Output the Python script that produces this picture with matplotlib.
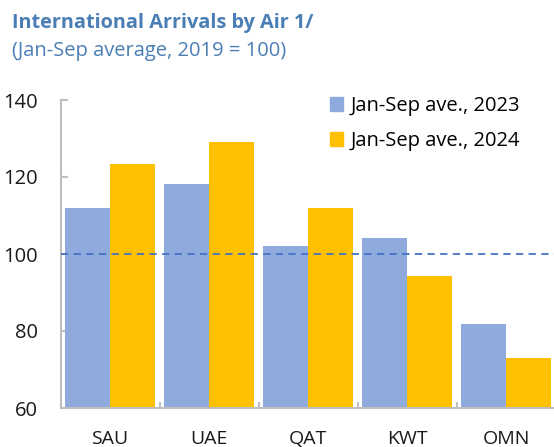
import numpy as np
import matplotlib
matplotlib.use('Agg')
import matplotlib.pyplot as plt
from matplotlib.patches import Patch

plt.rcParams['font.family'] = ['Open Sans', 'DejaVu Sans']

countries = ['SAU', 'UAE', 'QAT', 'KWT', 'OMN']
ave_2023 = [112.0, 118.3, 102.2, 104.2, 81.9]
ave_2024 = [123.5, 129.0, 112.0, 94.4, 73.0]
baseline = 100
series_labels = ['Jan-Sep ave., 2023', 'Jan-Sep ave., 2024']

blue = '#8FAADC'
yellow = '#FFC000'
grey = '#BFBFBF'
title_blue = '#4A7EB5'

W, H = 554, 447
fig = plt.figure(figsize=(W / 100, H / 100), dpi=100)
ax = fig.add_axes([60.5 / W, 1 - 408 / H, 495 / W, 308 / H])

x = np.arange(len(countries))
bw = 0.4545
ax.bar(x - bw / 2, ave_2023, width=bw, color=blue, zorder=2)
ax.bar(x + bw / 2, ave_2024, width=bw, color=yellow, zorder=2)
ax.axhline(baseline, color='#4472C4', linestyle=(0, (4, 3)), linewidth=1.3, zorder=3)

ax.set_xlim(-0.5, len(countries) - 0.5)
ax.set_ylim(60, 140)
ax.set_yticks([60, 80, 100, 120, 140])
ax.tick_params(axis='y', direction='in', length=5, width=1.5, color=grey,
               labelsize=14.5, pad=16, labelcolor='#1a1a1a')

# x ticks sit at the category boundaries, labels at category centres
ax.set_xticks(np.arange(len(countries) + 1) - 0.5)
ax.set_xticklabels([])
ax.set_xticks(x, minor=True)
ax.set_xticklabels(countries, minor=True)
ax.tick_params(axis='x', which='major', direction='in', length=4, width=1.5, color=grey)
ax.tick_params(axis='x', which='minor', length=0, labelsize=14, pad=15.5, labelcolor='#1a1a1a')

for s in ['top', 'right']:
    ax.spines[s].set_visible(False)
for s in ['left', 'bottom']:
    ax.spines[s].set_color(grey)
    ax.spines[s].set_linewidth(1.5)

handles = [Patch(color=blue), Patch(color=yellow)]
fig.legend(handles, series_labels, loc='upper left', bbox_to_anchor=(322 / W, 1 - 88 / H),
           frameon=False, fontsize=14.5, handlelength=0.65, handleheight=0.65,
           handletextpad=0.35, labelspacing=0.75, borderaxespad=0)

fig.text(12 / W, 1 - 23 / H, 'International Arrivals by Air 1/', fontsize=14.3,
         fontweight='bold', color=title_blue, va='center')
fig.text(12 / W, 1 - 51 / H, '(Jan-Sep average, 2019 = 100)', fontsize=14.5,
         color=title_blue, va='center')

fig.savefig('out.png', dpi=100)
